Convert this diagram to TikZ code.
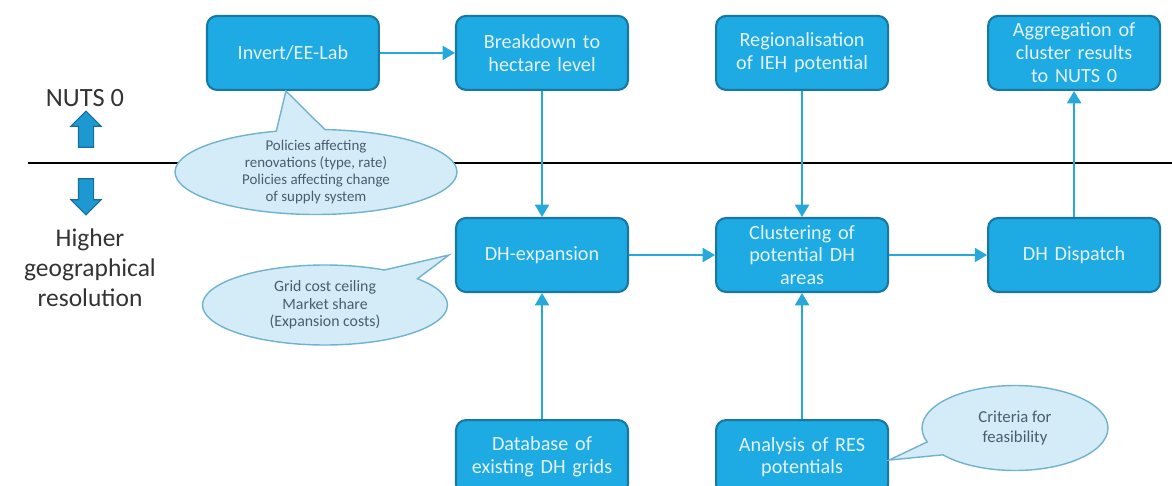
\documentclass[tikz,border=0pt]{standalone}
\usepackage{fontspec}
\setmainfont{Carlito}
\usetikzlibrary{positioning,shapes.callouts,shapes.arrows,arrows.meta}
\definecolor{boxfill}{RGB}{30,170,226}
\definecolor{boxline}{RGB}{24,120,165}
\definecolor{boxtext}{RGB}{228,242,250}
\definecolor{arrowcol}{RGB}{38,168,220}
\definecolor{notefill}{RGB}{211,236,248}
\definecolor{noteline}{RGB}{112,178,208}
\definecolor{notetext}{RGB}{75,92,110}
\definecolor{bigfill}{RGB}{30,152,208}
\definecolor{bigline}{RGB}{22,110,160}

\begin{document}
\begin{tikzpicture}[x=0.02cm, y=-0.02cm, >={Triangle[length=7pt,width=8pt]},
        box/.style = {draw=boxline, line width=1.2pt, fill=boxfill, rounded corners=0.2cm, text width=3.2cm, inner xsep=0.12cm, inner ysep=1pt, minimum height=1.48cm, align=center, text=boxtext, font=\fontsize{11.5}{13}\selectfont},
        bubble/.style = {ellipse callout, draw=noteline, line width=0.8pt, fill=notefill, text=notetext, align=center, inner sep=0pt, callout pointer arc=20},
        bigarrow/.style = {single arrow, draw=bigline, fill=bigfill, line width=0.6pt, inner sep=0.14cm, single arrow head extend=0.15cm, minimum height=0.72cm},
        flow/.style = {->, arrowcol, line width=1.1pt}]
        \useasboundingbox (0,0) rectangle (1172,486);

        \node[box] (dhexp) at (542,255) {DH-expansion};
        \node[box] (breakdown) [above=2.52cm of dhexp] {Breakdown to\\hectare level};
        \node[box] (database) [below=2.52cm of dhexp] {Database of\\existing DH grids};
        \node[box] (invert) [left=1.5cm of breakdown] {Invert/EE-Lab};
        \node[box] (cluster) [right=1.72cm of dhexp] {Clustering of\\potential DH\\areas};
        \node[box] (region) [above=2.52cm of cluster] {Regionalisation\\of IEH potential};
        \node[box] (analysis) [below=2.52cm of cluster] {Analysis of RES\\potentials};
        \node[box] (dispatch) [right=1.96cm of cluster] {DH Dispatch};
        \node[box] (aggreg) [above=2.52cm of dispatch] {Aggregation of\\cluster results\\to NUTS 0};

        \draw[line width=1.1pt] (28,163) -- (1172,163);

        \node[font=\fontsize{15}{18}\selectfont, text=black!80] (nuts) at (85,98) {NUTS 0};
        \node[bigarrow, shape border rotate=90] (up) at (86,133) {};
        \node[bigarrow, shape border rotate=270] (down) at (86,193) {};
        \node[font=\fontsize{14.5}{17}\selectfont, text=black!80, align=center] (higher) at (90,268) {Higher\\geographical\\resolution};

        \node[bubble, minimum width=5.64cm, minimum height=1.7cm, inner ysep=-1.7pt, font=\fontsize{8.5}{9.8}\selectfont, callout absolute pointer={([xshift=-0.14cm]invert.south)}] (policies) at (316,172) {Policies affecting\\renovations (type, rate)\\Policies affecting change\\of supply system};
        \node[bubble, minimum width=4.9cm, minimum height=1.6cm, font=\fontsize{9}{9.8}\selectfont, callout absolute pointer={([xshift=-0.12cm]dhexp.west)}] (grid) at (325,305) {Grid cost ceiling\\Market share\\(Expansion costs)};
        \node[bubble, minimum width=3.72cm, minimum height=1.7cm, font=\fontsize{9.5}{11}\selectfont, callout absolute pointer={([yshift=-0.06cm]analysis.east)}] (criteria) at (1015,428) {Criteria for\\feasibility};

        \draw[flow] (invert) -- (breakdown);
        \draw[flow] (breakdown) -- (dhexp);
        \draw[flow] (region) -- (cluster);
        \draw[flow] (dhexp) -- (cluster);
        \draw[flow] (cluster) -- (dispatch);
        \draw[flow] (dispatch) -- (aggreg);
        \draw[flow] (database) -- (dhexp);
        \draw[flow] (analysis) -- (cluster);
\end{tikzpicture}
\end{document}
